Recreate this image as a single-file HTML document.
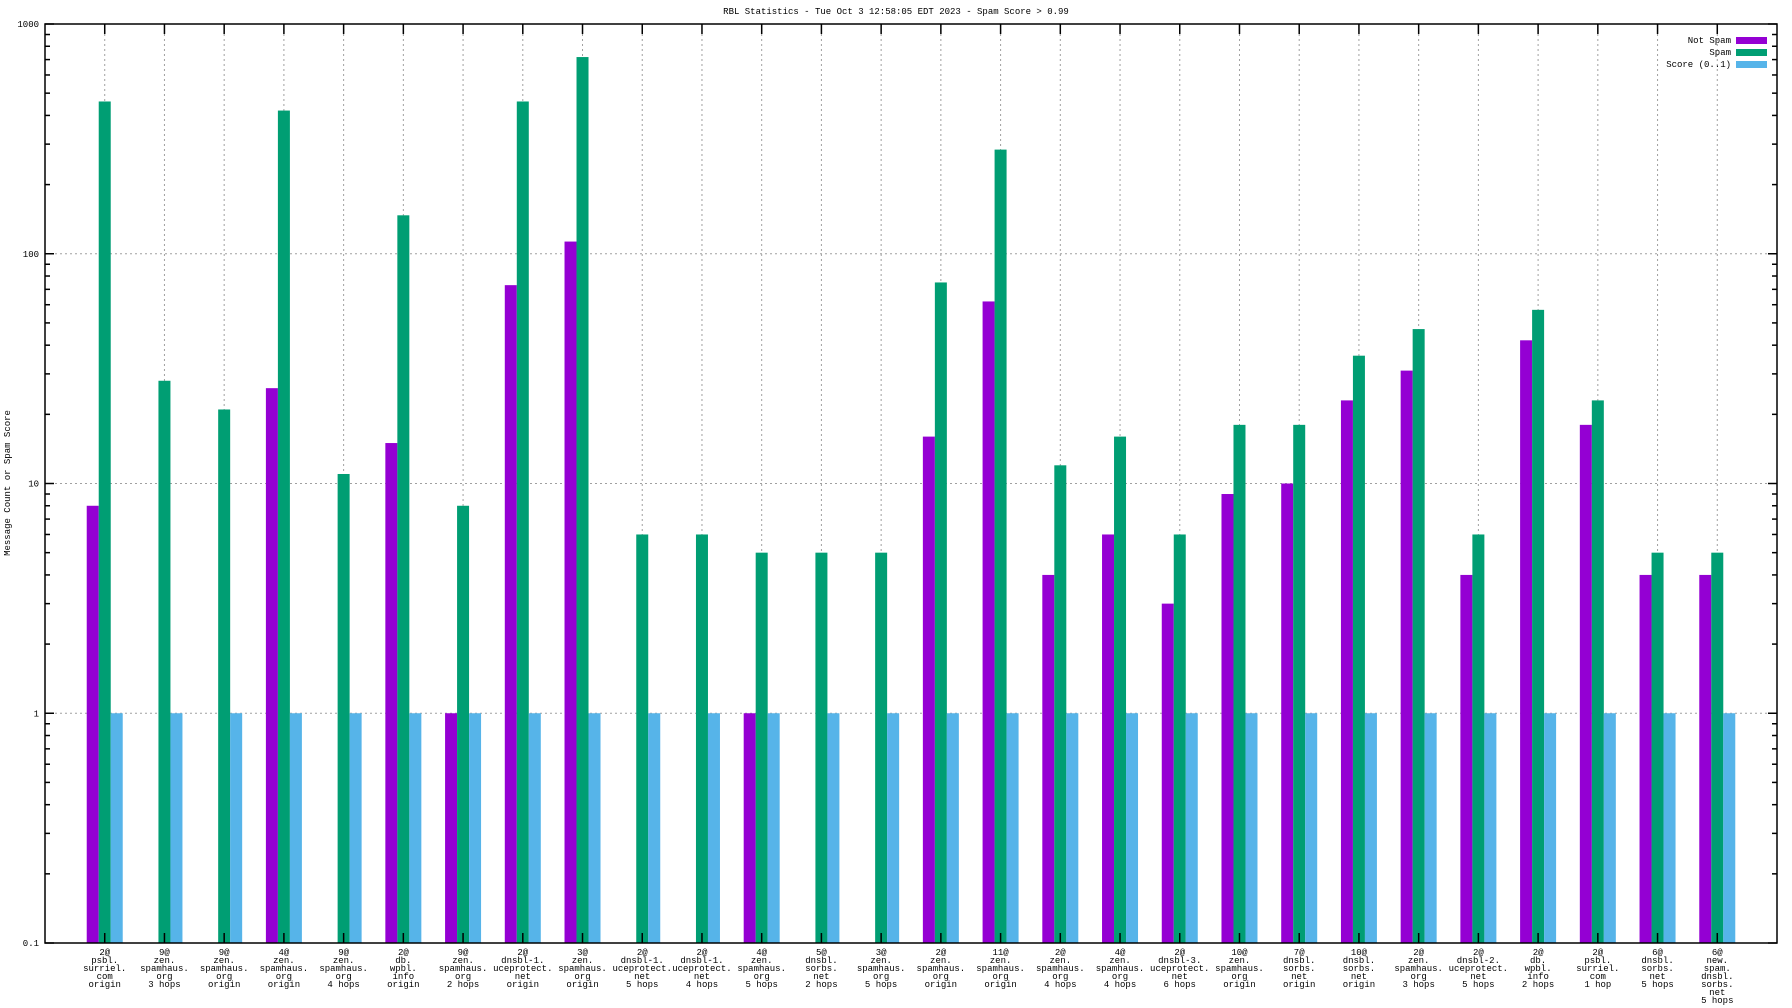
<!DOCTYPE html>
<html><head><meta charset="utf-8"><style>
html,body{margin:0;padding:0;background:#fff;}
svg{display:block;font-family:"Liberation Mono","DejaVu Sans Mono",monospace;}
</style></head><body>
<svg id="chart" width="1792" height="1008" xmlns="http://www.w3.org/2000/svg">
<text x="896" y="14" font-size="9" text-anchor="middle">RBL Statistics - Tue Oct  3 12:58:05 EDT 2023 - Spam Score &gt; 0.99</text>
<text x="0" y="0" font-size="9" text-anchor="middle" transform="translate(10,483) rotate(-90)">Message Count or Spam Score</text>
<g id="grid"></g>
<g id="bars"></g>
<g id="axes"></g>
<g id="legend"></g>
</svg>
<script>
const categories = [
["2@","psbl.","surriel.","com","origin"],
["9@","zen.","spamhaus.","org","3 hops"],
["9@","zen.","spamhaus.","org","origin"],
["4@","zen.","spamhaus.","org","origin"],
["9@","zen.","spamhaus.","org","4 hops"],
["2@","db.","wpbl.","info","origin"],
["9@","zen.","spamhaus.","org","2 hops"],
["2@","dnsbl-1.","uceprotect.","net","origin"],
["3@","zen.","spamhaus.","org","origin"],
["2@","dnsbl-1.","uceprotect.","net","5 hops"],
["2@","dnsbl-1.","uceprotect.","net","4 hops"],
["4@","zen.","spamhaus.","org","5 hops"],
["5@","dnsbl.","sorbs.","net","2 hops"],
["3@","zen.","spamhaus.","org","5 hops"],
["2@","zen.","spamhaus.","org","origin"],
["11@","zen.","spamhaus.","org","origin"],
["2@","zen.","spamhaus.","org","4 hops"],
["4@","zen.","spamhaus.","org","4 hops"],
["2@","dnsbl-3.","uceprotect.","net","6 hops"],
["10@","zen.","spamhaus.","org","origin"],
["7@","dnsbl.","sorbs.","net","origin"],
["10@","dnsbl.","sorbs.","net","origin"],
["2@","zen.","spamhaus.","org","3 hops"],
["2@","dnsbl-2.","uceprotect.","net","5 hops"],
["2@","db.","wpbl.","info","2 hops"],
["2@","psbl.","surriel.","com","1 hop"],
["6@","dnsbl.","sorbs.","net","5 hops"],
["6@","new.","spam.","dnsbl.","sorbs.","net","5 hops"]
];
const notSpam = [8,null,null,26,null,15,1,73,113,null,null,1,null,null,16,62,4,6,3,9,10,23,31,4,42,18,4,4];
const spam = [460,28,21,420,11,147,8,460,718,6,6,5,5,5,75,284,12,16,6,18,18,36,47,6,57,23,5,5];
const score = [1,1,1,1,1,1,1,1,1,1,1,1,1,1,1,1,1,1,1,1,1,1,1,1,1,1,1,1];
const yTickLabels = ["0.1","1","10","100","1000"];
const seriesNames = ["Not Spam","Spam","Score (0..1)"];

const NS="http://www.w3.org/2000/svg";
const L=45,R=1777,T=24,B=943;
const colors=["#9400d3","#009e73","#56b4e9"];
const slot=(R-L)/(categories.length+1);
function xPos(i){return L+slot*(i+1);}
function yPos(v){return B-(Math.log10(v)+1)/4*(B-T);}
function mk(tag,attrs,parent){const e=document.createElementNS(NS,tag);for(const k in attrs)e.setAttribute(k,attrs[k]);parent.appendChild(e);return e;}
const grid=document.getElementById('grid'),bars=document.getElementById('bars'),axes=document.getElementById('axes'),legend=document.getElementById('legend');

// grid
categories.forEach((c,i)=>{
  const l=mk('line',{x1:xPos(i),x2:xPos(i),y1:T,y2:B,stroke:'#a0a0a0','stroke-width':1,'stroke-dasharray':'2,3'},grid);
  
  
});
[1,10,100].forEach(v=>{
  const l=mk('line',{x1:L,x2:R,y1:yPos(v),y2:yPos(v),stroke:'#a0a0a0','stroke-width':1,'stroke-dasharray':'2,3'},grid);
  
  
});

// bars
const bw=12;
[notSpam,spam,score].forEach((arr,s)=>{
  arr.forEach((v,i)=>{
    if(v===null||v<=0)return;
    const x=xPos(i)-1.5*bw+s*bw;
    const y=yPos(v);
    const r=mk('rect',{x:x,y:y,width:bw,height:B-y,fill:colors[s]},bars);
    
    
  });
});

// axes frame
const fr=mk('rect',{x:L,y:T,width:R-L,height:B-T,fill:'none',stroke:'#000','stroke-width':1.5},axes);


// y ticks
yTickLabels.forEach((lab,k)=>{
  const v=parseFloat(lab);
  const y=yPos(v);
  mk('line',{x1:L,x2:L+9,y1:y,y2:y,stroke:'#000','stroke-width':1.5},axes);
  mk('line',{x1:R,x2:R-9,y1:y,y2:y,stroke:'#000','stroke-width':1.5},axes);
  const t=mk('text',{x:L-6,y:y+3,'font-size':9,'text-anchor':'end'},axes);
  t.textContent=lab;
  
  
  if(k<yTickLabels.length-1){
    for(let m=2;m<=9;m++){
      const ym=yPos(v*m);
      mk('line',{x1:L,x2:L+5,y1:ym,y2:ym,stroke:'#000','stroke-width':1.5},axes);
      mk('line',{x1:R,x2:R-5,y1:ym,y2:ym,stroke:'#000','stroke-width':1.5},axes);
    }
  }
});
// x ticks and labels
categories.forEach((c,i)=>{
  const x=xPos(i);
  mk('line',{x1:x,x2:x,y1:T,y2:T+10,stroke:'#000','stroke-width':1.5},axes);
  mk('line',{x1:x,x2:x,y1:B,y2:B-10,stroke:'#000','stroke-width':1.5},axes);
  const t=mk('text',{x:x,y:955,'font-size':9,'text-anchor':'middle'},axes);
  
  
  c.forEach((line,j)=>{
    const ts=mk('tspan',{x:x,y:955+j*8},t);
    ts.textContent=line;
  });
});

// legend
seriesNames.forEach((n,s)=>{
  const y=37+s*12;
  const t=mk('text',{x:1731,y:y+6,'font-size':9,'text-anchor':'end'},legend);
  t.textContent=n;
  
  
  const r=mk('rect',{x:1736,y:y,width:31,height:7,fill:colors[s]},legend);
  
  
});
</script>
</body></html>
